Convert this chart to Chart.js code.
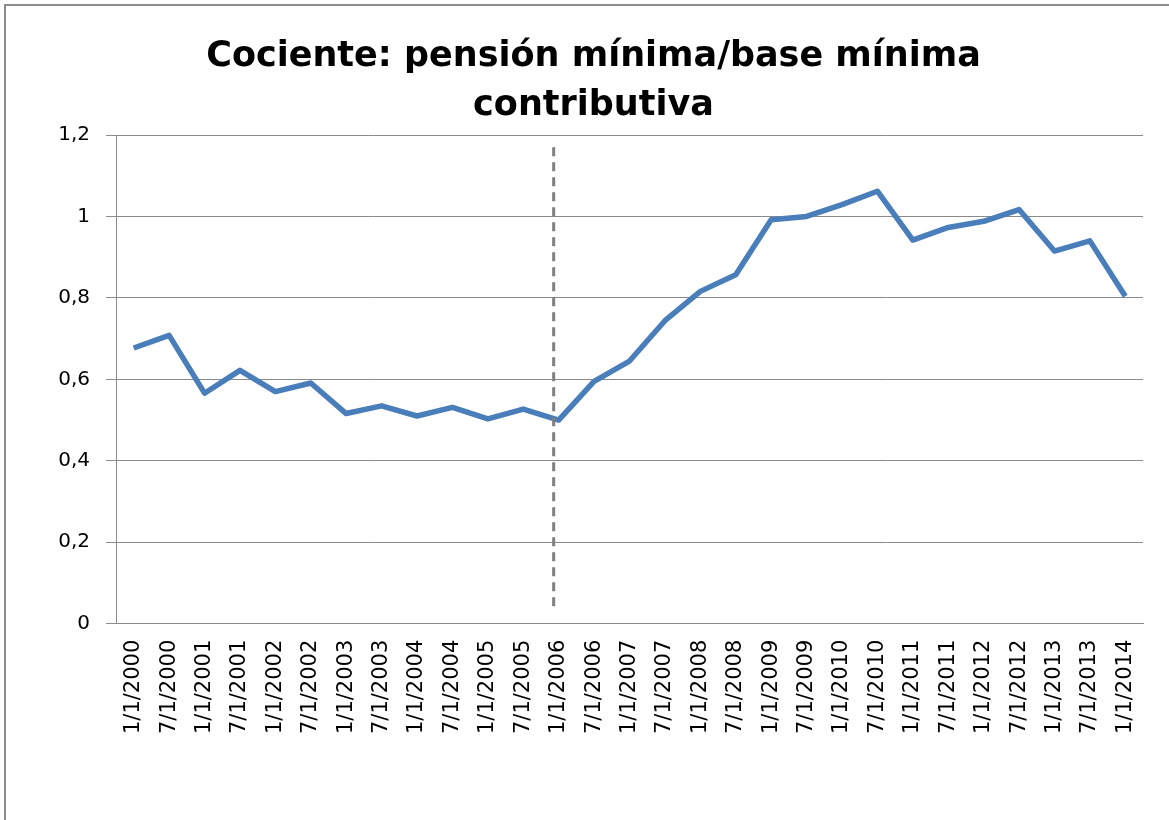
<!DOCTYPE html>
<html>
<head>
<meta charset="utf-8">
<script src="https://cdn.jsdelivr.net/npm/chart.js@4/dist/chart.umd.min.js"></script>
<style>
  html, body { margin: 0; padding: 0; background: #fff; }
  #wrap { position: relative; width: 1169px; height: 820px; overflow: hidden; }
  #frame { position: absolute; left: 4px; top: 4px; width: 1300px; height: 900px;
           border-left: 2px solid #8c8c8c; border-top: 2px solid #8c8c8c; }
  canvas { position: absolute; left: 0; top: 0; }
</style>
</head>
<body>
<div id="wrap">
  <div id="frame"></div>
  <canvas id="myChart" width="1169" height="820"></canvas>
</div>
<script>
// dates (one every six months)
var labels = [
  '1/1/2000', '7/1/2000', '1/1/2001', '7/1/2001', '1/1/2002', '7/1/2002',
  '1/1/2003', '7/1/2003', '1/1/2004', '7/1/2004', '1/1/2005', '7/1/2005',
  '1/1/2006', '7/1/2006', '1/1/2007', '7/1/2007', '1/1/2008', '7/1/2008',
  '1/1/2009', '7/1/2009', '1/1/2010', '7/1/2010', '1/1/2011', '7/1/2011',
  '1/1/2012', '7/1/2012', '1/1/2013', '7/1/2013', '1/1/2014'
];

// pension minima / base minima
var ratio = [
  0.677, 0.708, 0.566, 0.622, 0.570, 0.591,
  0.516, 0.535, 0.510, 0.531, 0.503, 0.527,
  0.500, 0.595, 0.645, 0.744, 0.816, 0.857,
  0.992, 1.000, 1.029, 1.062, 0.942, 0.973,
  0.988, 1.017, 0.915, 0.940, 0.804
];

var yTicks = [0, 0.2, 0.4, 0.6, 0.8, 1, 1.2];

// vertical dashed marker at 1/1/2006
var markerIndex = 12;
var markerRange = [0.035, 1.17];

var markerLine = {
  id: 'markerLine',
  afterDatasetsDraw(chart) {
    var ctx = chart.ctx;
    var x = chart.scales.x.getPixelForValue(markerIndex) - 5;
    var y0 = chart.scales.y.getPixelForValue(markerRange[0]);
    var y1 = chart.scales.y.getPixelForValue(markerRange[1]);
    ctx.save();
    ctx.strokeStyle = '#7f7f7f';
    ctx.lineWidth = 3;
    ctx.setLineDash([9, 6]);
    ctx.beginPath();
    ctx.moveTo(x, y1);
    ctx.lineTo(x, y0);
    ctx.stroke();
    ctx.restore();
  }
};

var gridGray = '#8a8a8a';

new Chart(document.getElementById('myChart').getContext('2d'), {
  type: 'line',
  data: {
    labels: labels,
    datasets: [{
      data: ratio,
      borderColor: '#4a7ebb',
      borderWidth: 5.5,
      pointRadius: 0,
      tension: 0,
      borderJoinStyle: 'round',
      borderCapStyle: 'butt'
    }]
  },
  options: {
    responsive: false,
    animation: false,
    layout: { padding: { left: 44, right: 26, top: 8, bottom: 80 } },
    plugins: {
      legend: { display: false },
      tooltip: { enabled: false },
      title: {
        display: true,
        text: ['Cociente: pensión mínima/base mínima', 'contributiva'],
        color: '#000',
        font: { family: 'DejaVu Sans', size: 35, weight: 'bold', lineHeight: 1.4 },
        padding: { top: 24, bottom: 5 }
      }
    },
    scales: {
      x: {
        offset: true,
        grid: { display: false, drawOnChartArea: false, drawTicks: true, tickLength: 10, color: gridGray, offset: true },
        border: { color: gridGray, width: 1 },
        ticks: {
          autoSkip: false,
          maxRotation: 90,
          minRotation: 90,
          padding: 6,
          color: '#000',
          font: { family: 'DejaVu Sans', size: 21 }
        }
      },
      y: {
        min: 0,
        max: 1.2,
        afterFit(scale) { scale.width = 72; },
        afterBuildTicks(scale) { scale.ticks = yTicks.map(v => ({ value: v })); },
        grid: { color: gridGray, tickLength: 10 },
        border: { color: gridGray, width: 1 },
        ticks: {
          padding: 16,
          color: '#000',
          font: { family: 'DejaVu Sans', size: 20 },
          callback: v => String(Math.round(v * 10) / 10).replace('.', ',')
        }
      }
    }
  },
  plugins: [markerLine]
});
</script>
</body>
</html>
